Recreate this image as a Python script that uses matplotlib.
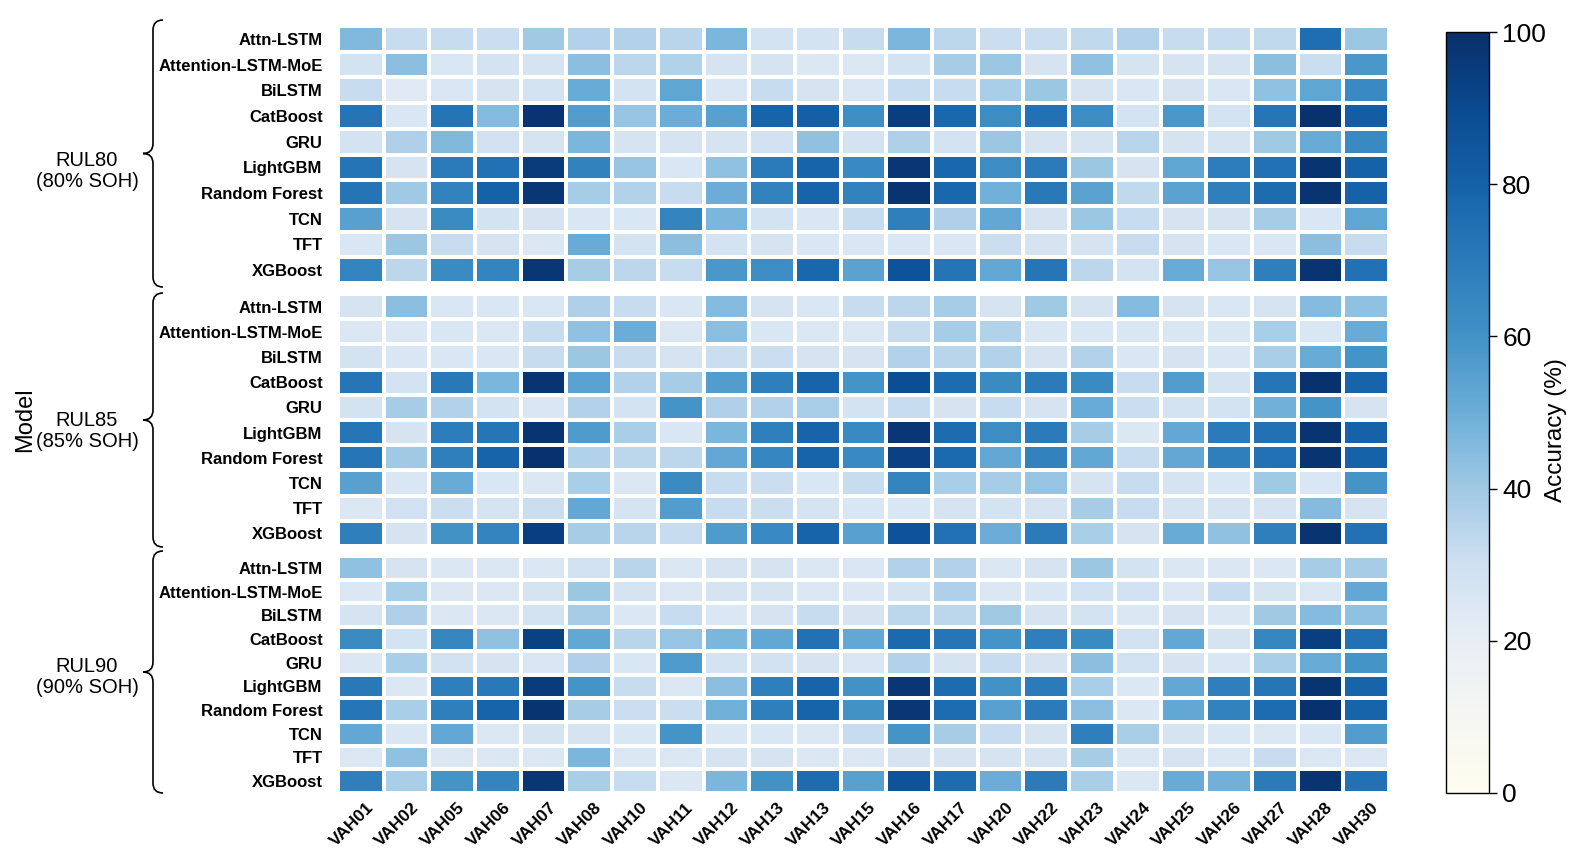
import numpy as np
import matplotlib
matplotlib.use("Agg")
import matplotlib.pyplot as plt
from matplotlib.colors import LinearSegmentedColormap
from matplotlib.path import Path
from matplotlib.patches import PathPatch
from matplotlib.transforms import ScaledTranslation

plt.rcParams['font.family'] = ['Liberation Sans', 'DejaVu Sans']

batteries = ["VAH01", "VAH02", "VAH05", "VAH06", "VAH07", "VAH08", "VAH10", "VAH11",
             "VAH12", "VAH13", "VAH13", "VAH15", "VAH16", "VAH17", "VAH20", "VAH22",
             "VAH23", "VAH24", "VAH25", "VAH26", "VAH27", "VAH28", "VAH30"]
models = ["Attn-LSTM", "Attention-LSTM-MoE", "BiLSTM", "CatBoost", "GRU", "LightGBM",
          "Random Forest", "TCN", "TFT", "XGBoost"]
groups = ["RUL80\n(80% SOH)", "RUL85\n(85% SOH)", "RUL90\n(90% SOH)"]

rul80 = [
    [46, 32, 32, 31, 40, 36, 36, 35, 47, 28, 28, 32, 47, 34, 31, 31, 33, 36, 32, 32, 33, 75, 41],
    [28, 44, 26, 28, 27, 44, 34, 36, 27, 27, 25, 25, 28, 39, 41, 27, 43, 27, 27, 27, 44, 31, 58],
    [32, 23, 26, 27, 28, 51, 28, 53, 26, 32, 27, 26, 32, 32, 38, 41, 27, 26, 27, 26, 43, 53, 64],
    [73, 26, 73, 45, 98, 56, 42, 50, 55, 79, 81, 61, 94, 78, 62, 74, 62, 28, 58, 28, 72, 99, 82],
    [28, 37, 46, 29, 27, 47, 27, 27, 27, 29, 43, 28, 37, 28, 41, 27, 27, 35, 27, 27, 40, 51, 64],
    [73, 27, 70, 74, 96, 67, 42, 26, 43, 70, 79, 64, 97, 78, 62, 70, 41, 27, 53, 69, 74, 98, 80],
    [73, 40, 67, 80, 97, 39, 36, 32, 50, 67, 79, 67, 98, 78, 49, 71, 54, 33, 54, 68, 76, 98, 80],
    [55, 27, 63, 28, 27, 26, 26, 66, 47, 28, 26, 32, 68, 37, 52, 27, 41, 32, 27, 27, 39, 26, 53],
    [26, 41, 32, 27, 25, 51, 28, 44, 28, 27, 26, 26, 26, 26, 31, 27, 27, 32, 27, 26, 26, 44, 32],
    [66, 34, 63, 66, 97, 39, 34, 32, 58, 62, 78, 54, 86, 73, 52, 72, 34, 28, 51, 42, 68, 98, 74],
]
rul85 = [
    [27, 44, 26, 26, 26, 37, 32, 26, 45, 27, 26, 32, 34, 39, 27, 40, 27, 45, 27, 26, 27, 45, 43],
    [25, 25, 26, 25, 32, 43, 50, 25, 44, 26, 25, 25, 32, 39, 36, 26, 26, 26, 26, 26, 38, 26, 51],
    [28, 26, 26, 26, 32, 41, 32, 27, 31, 31, 27, 27, 36, 35, 36, 27, 36, 26, 27, 26, 38, 51, 59],
    [72, 28, 71, 47, 98, 54, 36, 39, 56, 68, 79, 59, 88, 76, 63, 70, 63, 32, 56, 28, 72, 99, 79],
    [28, 39, 36, 28, 26, 36, 28, 59, 37, 36, 38, 28, 32, 27, 32, 27, 51, 31, 28, 28, 49, 59, 27],
    [72, 27, 69, 72, 98, 57, 38, 26, 47, 68, 79, 64, 97, 76, 62, 70, 39, 25, 52, 70, 74, 98, 80],
    [72, 40, 68, 79, 99, 36, 34, 34, 52, 65, 79, 64, 93, 77, 52, 67, 52, 32, 52, 68, 74, 98, 80],
    [55, 26, 51, 26, 25, 38, 25, 63, 32, 31, 26, 32, 66, 38, 39, 42, 27, 32, 27, 26, 40, 26, 59],
    [25, 29, 31, 27, 31, 52, 27, 56, 32, 31, 27, 26, 26, 27, 28, 27, 39, 32, 27, 27, 27, 45, 27],
    [68, 27, 60, 66, 94, 39, 35, 32, 57, 64, 79, 55, 86, 74, 50, 70, 38, 27, 51, 43, 68, 98, 74],
]
rul90 = [
    [43, 27, 25, 25, 25, 29, 35, 25, 27, 27, 25, 26, 36, 36, 25, 27, 41, 28, 25, 25, 25, 39, 39],
    [25, 38, 25, 25, 27, 41, 27, 25, 27, 27, 25, 25, 27, 37, 25, 26, 29, 29, 25, 32, 27, 25, 52],
    [27, 37, 25, 25, 28, 39, 25, 32, 25, 27, 32, 27, 34, 34, 40, 27, 28, 25, 27, 25, 40, 45, 43],
    [63, 28, 65, 43, 93, 52, 35, 42, 47, 52, 74, 52, 77, 72, 59, 68, 63, 29, 52, 27, 65, 94, 74],
    [25, 38, 29, 27, 26, 37, 26, 57, 28, 29, 27, 26, 36, 27, 32, 27, 44, 29, 27, 26, 38, 51, 59],
    [71, 25, 68, 71, 96, 59, 32, 25, 44, 68, 79, 60, 97, 76, 60, 70, 38, 25, 52, 68, 72, 98, 79],
    [72, 38, 68, 79, 98, 39, 31, 31, 49, 68, 79, 60, 97, 76, 55, 70, 44, 25, 52, 67, 76, 99, 79],
    [52, 26, 52, 25, 27, 27, 26, 59, 26, 26, 25, 32, 59, 39, 32, 27, 68, 38, 27, 26, 25, 26, 56],
    [25, 43, 25, 25, 25, 47, 25, 25, 27, 27, 25, 25, 27, 27, 27, 27, 39, 25, 27, 25, 32, 25, 25],
    [68, 38, 59, 66, 97, 38, 32, 25, 47, 60, 76, 55, 86, 76, 50, 70, 38, 25, 51, 49, 70, 98, 74],
]
panels = [rul80, rul85, rul90]

cmap = LinearSegmentedColormap.from_list("ivory_blues", [
    (0.0, "#fefdef"), (0.1, "#f5f6f2"), (0.2, "#e8eef5"), (0.3, "#cfe0f1"),
    (0.4, "#a0c9e4"), (0.5, "#6caed8"), (0.6, "#4292c6"), (0.7, "#2b7bbb"),
    (0.8, "#1562a9"), (0.9, "#0a4a8f"), (1.0, "#08306b")])

W, H = 1586, 868
fig = plt.figure(figsize=(W / 100, H / 100), dpi=100)

def fx(px):
    return px / W

def fy(py):
    return 1 - py / H

panel_px = [(26, 283), (294, 546), (556, 793)]
x0, x1 = 338, 1389

mesh = None
for i, (vals, (t, b)) in enumerate(zip(panels, panel_px)):
    ax = fig.add_axes([fx(x0), fy(b), fx(x1 - x0), (b - t) / H])
    data = np.array(vals, dtype=float)
    mesh = ax.pcolormesh(data, cmap=cmap, vmin=0, vmax=100,
                         edgecolors="white", linewidth=1.5)
    ax.set_xlim(0, len(batteries))
    ax.set_ylim(len(models), 0)
    ax.set_yticks(np.arange(len(models)) + 0.5)
    ax.set_yticklabels(models, fontsize=12, fontweight="bold")
    ax.tick_params(axis="y", length=0, pad=11)
    ax.set_xticks(np.arange(len(batteries)) + 0.5)
    if i == 2:
        ax.set_xticklabels(batteries, rotation=45, ha="center", va="top",
                           fontsize=12.5, fontweight="bold")
        ax.tick_params(axis="x", length=0, pad=5)
        for lbl in ax.get_xticklabels():
            lbl.set_transform(lbl.get_transform() +
                              ScaledTranslation(-0.09, 0, fig.dpi_scale_trans))
    else:
        ax.set_xticklabels([])
        ax.tick_params(axis="x", length=0)
    for s in ax.spines.values():
        s.set_visible(False)

# braces and group labels
def brace(top, bottom, xr=163, xs=153, xt=143, r=10):
    ym = (top + bottom) / 2
    pts = [(xr, top), (xs, top), (xs, top + r),
           (xs, ym - r), (xs, ym), (xt, ym),
           (xs, ym), (xs, ym + r),
           (xs, bottom - r), (xs, bottom), (xr, bottom)]
    codes = [Path.MOVETO, Path.CURVE3, Path.CURVE3,
             Path.LINETO, Path.CURVE3, Path.CURVE3,
             Path.CURVE3, Path.CURVE3,
             Path.LINETO, Path.CURVE3, Path.CURVE3]
    verts = [(fx(x), fy(y)) for x, y in pts]
    patch = PathPatch(Path(verts, codes), transform=fig.transFigure,
                      facecolor="none", edgecolor="black", linewidth=1.2)
    fig.add_artist(patch)

brace_px = [(20, 287), (293, 547), (551, 793)]
label_y = [171, 431, 677]
for g, (t, b), ly in zip(groups, brace_px, label_y):
    brace(t, b)
    fig.text(fx(87), fy(ly), g, ha="center", va="center",
             fontsize=14.5, linespacing=1.15)

fig.text(fx(25), fy(420), "Model", rotation=90, ha="center", va="center", fontsize=17)

# colorbar
cax = fig.add_axes([fx(1446), fy(793), fx(43), (793 - 32) / H])
cb = fig.colorbar(mesh, cax=cax)
cb.set_ticks([0, 20, 40, 60, 80, 100])
cb.ax.tick_params(labelsize=19, length=6, width=1)
cb.outline.set_linewidth(1)
fig.text(fx(1556), fy(430), "Accuracy (%)", rotation=90, ha="center", va="center",
         fontsize=17.5)

fig.savefig("out.png", dpi=100)
